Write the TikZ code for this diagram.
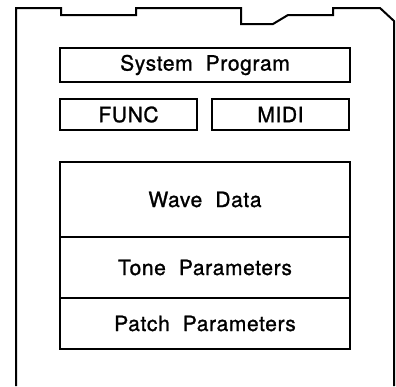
\documentclass[tikz,border=0pt]{standalone}
\usepackage{fontspec}
\setmainfont{TeX Gyre Heros}[LetterSpace=3,FakeBold=1.2]
\begin{document}
\begin{tikzpicture}[x=1pt,y=-1pt,
  block/.style={draw, line width=1.9pt, inner sep=0pt, outer sep=0pt,
    font=\fontsize{21}{25}\selectfont},
  outline/.style={line width=2pt, line join=miter}]
\useasboundingbox (0,0) rectangle (396,386);
% cartridge outline, open at the bottom
\draw[outline] (16,386) -- (16,8) -- (61,8) -- (61,15) -- (136,15) -- (136,8)
  -- (241,8) -- (241,24) -- (273,24) -- (288,15) -- (333,15) -- (333,8)
  -- (380,8) -- (394,21) -- (394,386);
% memory areas
\node[block, minimum width=290pt, minimum height=34pt] (sys) at (205,65) {System\hspace{13pt}Program};
\node[block, minimum width=137pt, minimum height=31pt] (func) at (128.5,114.5) {FUNC};
\node[block, minimum width=137pt, minimum height=31pt] (midi) at (280.5,114.5) {MIDI};
\node[block, minimum width=290pt, minimum height=75pt] (wave) at (205,199.5) {Wave\hspace{13pt}Data};
\node[block, minimum width=290pt, minimum height=61pt] (tone) at (205,267.5) {Tone\hspace{13pt}Parameters};
\node[block, minimum width=290pt, minimum height=51pt] (patch) at (205,323.5) {Patch\hspace{13pt}Parameters};
\end{tikzpicture}
\end{document}
